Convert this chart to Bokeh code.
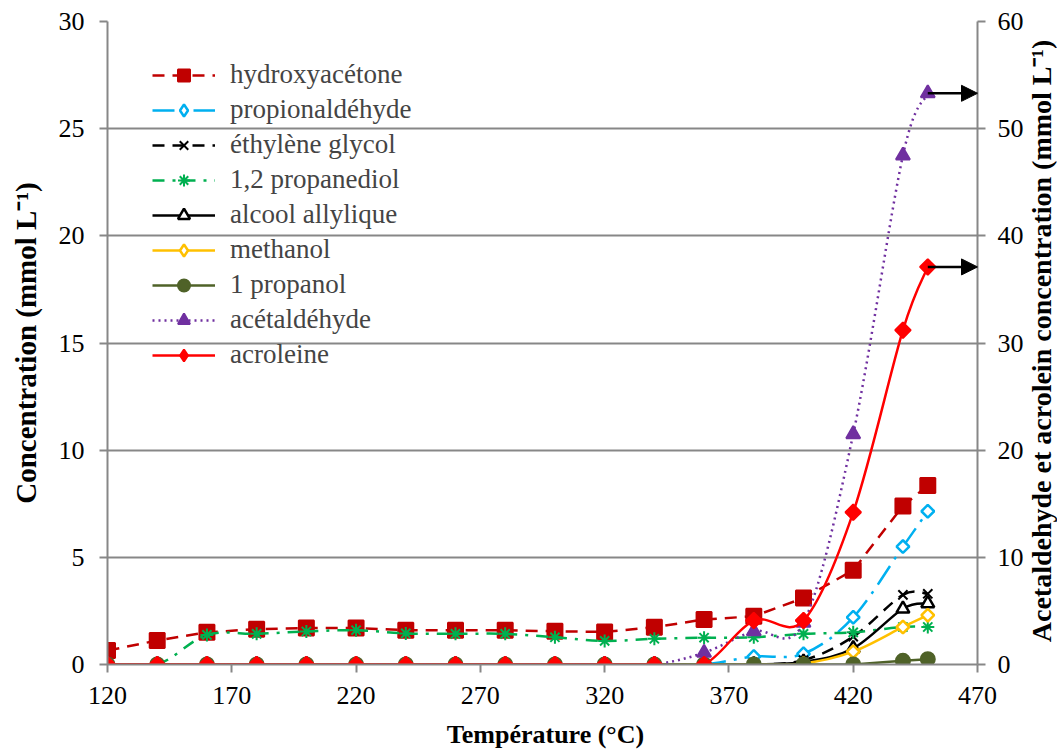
import numpy as np
from bokeh.plotting import figure
from bokeh.models import (Range1d, LinearAxis, FixedTicker, Legend, LegendItem,
                          Arrow, NormalHead, Label)
from bokeh.embed import file_html
from bokeh.resources import INLINE

# ---------------- data ----------------
temperature = [120, 140, 160, 180, 200, 220, 240, 260, 280, 300, 320, 340, 360, 380, 400, 420, 440, 450]
hydroxyacetone = [0.65, 1.12, 1.5, 1.65, 1.7, 1.7, 1.6, 1.6, 1.6, 1.55, 1.52, 1.74, 2.1, 2.25, 3.1, 4.4, 7.4, 8.35]
propionaldehyde = [0, 0, 0, 0, 0, 0, 0, 0, 0, 0, 0, 0, 0, 0.37, 0.5, 2.2, 5.5, 7.15]
ethylene_glycol = [0, 0, 0, 0, 0, 0, 0, 0, 0, 0, 0, 0, 0, 0, 0.2, 1.3, 3.25, 3.3]
propanediol_12 = [0, 0, 1.38, 1.43, 1.54, 1.6, 1.45, 1.43, 1.43, 1.27, 1.1, 1.2, 1.25, 1.27, 1.43, 1.5, 1.75, 1.75]
alcool_allylique = [0, 0, 0, 0, 0, 0, 0, 0, 0, 0, 0, 0, 0, 0, 0.12, 0.75, 2.6, 2.85]
methanol = [0, 0, 0, 0, 0, 0, 0, 0, 0, 0, 0, 0, 0, 0, 0.05, 0.6, 1.75, 2.3]
propanol_1 = [0, 0, 0, 0, 0, 0, 0, 0, 0, 0, 0, 0, 0, 0, 0, 0, 0.17, 0.25]
# right axis series
acetaldehyde = [0, 0, 0, 0, 0, 0, 0, 0, 0, 0, 0, 0, 1.1, 3.1, 3.9, 21.5, 47.5, 53.3]
acroleine = [0, 0, 0, 0, 0, 0, 0, 0, 0, 0, 0, 0, 0, 4.1, 4.1, 14.2, 31.2, 37.1]

x_ticks = [120, 170, 220, 270, 320, 370, 420, 470]
y_left_ticks = [0, 5, 10, 15, 20, 25, 30]
y_right_ticks = [0, 10, 20, 30, 40, 50, 60]

FONT = "Liberation Serif"
GRAY = "#878787"

p = figure(width=1057, height=749, output_backend="svg", toolbar_location=None,
           x_range=Range1d(120, 470), y_range=Range1d(0, 30),
           min_border_left=107, min_border_right=77, min_border_top=21, min_border_bottom=85)
p.extra_y_ranges = {"right": Range1d(0, 60)}
p.outline_line_color = None
p.background_fill_color = "white"
p.xgrid.visible = False
p.ygrid.grid_line_color = GRAY
p.ygrid.grid_line_width = 2

p.add_layout(LinearAxis(y_range_name="right"), "right")

for ax in p.axis:
    ax.axis_line_color = GRAY
    ax.axis_line_width = 2
    ax.major_tick_line_color = GRAY
    ax.major_tick_line_width = 2
    ax.major_tick_in = 0
    ax.major_tick_out = 8
    ax.minor_tick_line_color = None
    ax.major_label_text_font = FONT
    ax.major_label_text_font_size = "26px"
    ax.major_label_text_color = "black"
    ax.axis_label_text_font = FONT
    ax.axis_label_text_font_size = "29px"
    ax.axis_label_text_font_style = "bold"
    ax.axis_label_text_color = "black"

p.xaxis.ticker = FixedTicker(ticks=x_ticks)
p.xaxis.major_label_standoff = 14
p.yaxis[0].ticker = FixedTicker(ticks=y_left_ticks)
p.yaxis[0].axis_label = "Concentration (mmol L⁻¹)"
p.yaxis[0].major_label_standoff = 15
p.yaxis[0].axis_label_standoff = 14
p.yaxis[1].ticker = FixedTicker(ticks=y_right_ticks)
p.yaxis[1].major_label_standoff = 12

# axis titles placed in side panels (right one reads upwards like the left one)
p.add_layout(Label(x=15, y=327, x_units="screen", y_units="screen",
                   text="Acetaldehyde et acrolein concentration  (mmol L⁻¹)",
                   angle=np.pi / 2, text_align="center", text_baseline="middle",
                   text_font=FONT, text_font_size="28px", text_font_style="bold",
                   text_color="black"), "right")
p.add_layout(Label(x=438, y=1, x_units="screen", y_units="screen",
                   text="Température (°C)", text_align="center", text_baseline="middle",
                   text_font=FONT, text_font_size="26px", text_font_style="bold",
                   text_color="black"), "below")


def smooth_segments(xs, ys):
    """Control points of a Catmull-Rom style Bezier through the data points."""
    n = len(xs)
    x0, y0, x1, y1, cx0, cy0, cx1, cy1 = [], [], [], [], [], [], [], []
    for i in range(n - 1):
        a = i - 1 if i > 0 else i
        d = i + 2 if i + 2 < n else i + 1
        x0.append(xs[i]); y0.append(ys[i]); x1.append(xs[i + 1]); y1.append(ys[i + 1])
        cx0.append(xs[i] + (xs[i + 1] - xs[a]) / 6.0)
        cy0.append(ys[i] + (ys[i + 1] - ys[a]) / 6.0)
        cx1.append(xs[i + 1] - (xs[d] - xs[i]) / 6.0)
        cy1.append(ys[i + 1] - (ys[d] - ys[i]) / 6.0)
    return dict(x0=x0, y0=y0, x1=x1, y1=y1, cx0=cx0, cy0=cy0, cx1=cx1, cy1=cy1)


series = [
    # label, values, color, dash, smooth, marker, fill, size, angle, legend marker, range
    ("hydroxyacétone", hydroxyacetone, "#C00000", "12 8", False, "square", "#C00000", 15, 0, None, "default"),
    ("propionaldéhyde", propionaldehyde, "#00B0F0", "22 8 3 8", True, "square", "white", 9, np.pi / 4, "diamond", "default"),
    ("éthylène glycol", ethylene_glycol, "black", "12 8", True, "x", "black", 13, 0, None, "default"),
    ("1,2 propanediol", propanediol_12, "#00B050", "12 8 3 8", True, "asterisk", "#00B050", 13, 0, None, "default"),
    ("alcool allylique", alcool_allylique, "black", "solid", True, "triangle", "white", 13, 0, None, "default"),
    ("methanol", methanol, "#FFC000", "solid", True, "square", "white", 9, np.pi / 4, "diamond", "default"),
    ("1 propanol", propanol_1, "#4F6228", "solid", False, "circle", "#4F6228", 14, 0, None, "default"),
    ("acétaldéhyde", acetaldehyde, "#7030A0", "2 4", True, "triangle", "#7030A0", 14, 0, None, "right"),
    ("acroleine", acroleine, "#FF0000", "solid", True, "square", "#FF0000", 11, np.pi / 4, "diamond", "right"),
]

items = []
for (label, vals, color, dash, smooth, marker, fill, size, angle, leg_marker, rng) in series:
    if smooth:
        seg = smooth_segments(temperature, vals)
        r_line = p.bezier(x0="x0", y0="y0", x1="x1", y1="y1", cx0="cx0", cy0="cy0",
                          cx1="cx1", cy1="cy1", source=seg, line_color=color,
                          line_width=2.5, line_dash=dash, y_range_name=rng)
    else:
        r_line = p.line(temperature, vals, line_color=color, line_width=2.5,
                        line_dash=dash, y_range_name=rng)
    lw = 2.5 if fill == "white" else 2
    r_mark = p.scatter(temperature, vals, marker=marker, size=size, angle=angle,
                       fill_color=fill, line_color=color, line_width=lw,
                       y_range_name=rng)
    if leg_marker is None:
        items.append(LegendItem(label=label, renderers=[r_line, r_mark]))
    else:
        # legend-only glyph (legend markers are drawn unrotated); NaN point draws nothing in the plot
        r_leg = p.scatter(x=[np.nan], y=[np.nan], marker=leg_marker, size=size,
                          fill_color=fill, line_color=color, line_width=lw,
                          y_range_name=rng)
        items.append(LegendItem(label=label, renderers=[r_line, r_leg]))

# arrows pointing from the last acetaldehyde / acrolein points to the right axis
for vals in (acetaldehyde, acroleine):
    p.add_layout(Arrow(end=NormalHead(size=16, fill_color="black", line_color="black"),
                       x_start=temperature[-1], y_start=vals[-1],
                       x_end=p.x_range.end, y_end=vals[-1],
                       line_color="black", line_width=2.5, y_range_name="right"))

legend = Legend(items=items, location=(45, 294), orientation="vertical",
                label_text_font=FONT, label_text_font_size="27px",
                glyph_width=63, glyph_height=30, label_height=30, spacing=4,
                padding=0, margin=0, label_standoff=15,
                background_fill_alpha=0, border_line_alpha=0)
p.add_layout(legend, "center")

open("out.html", "w").write(file_html(p, INLINE))
